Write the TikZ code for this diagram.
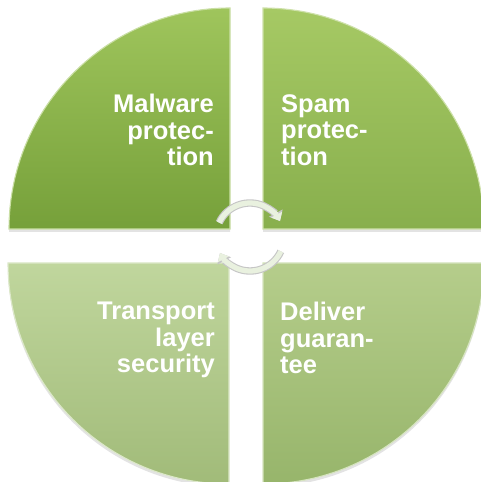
\documentclass[tikz,border=0pt]{standalone}
\usepackage{fontspec}
\setmainfont{Liberation Sans}
\usetikzlibrary{arrows.meta,shadows}

\definecolor{tlTop}{HTML}{9FC55C}
\definecolor{tlBot}{HTML}{76A03A}
\definecolor{trTop}{HTML}{A6C964}
\definecolor{trBot}{HTML}{88AF4D}
\definecolor{blTop}{HTML}{C0D69D}
\definecolor{blBot}{HTML}{A1BB79}
\definecolor{brTop}{HTML}{B5CD8B}
\definecolor{brBot}{HTML}{97B56B}
\definecolor{cycleFill}{HTML}{E9F1DF}

\begin{document}
\begin{tikzpicture}[
  x=1pt,
  y=1pt,
  quarter/.style={
    draw=#1,
    line width=1.1pt,
    drop shadow={shadow xshift=0pt, shadow yshift=-3pt, opacity=0.22}
  },
  caption/.style={
    font=\bfseries\fontsize{25.5}{26.5}\selectfont,
    text=white,
    inner sep=0pt
  },
  cycleedge/.style={
    draw=gray!45,
    line width=7.4pt,
    -{Triangle[width=15pt,length=9pt]}
  },
  cyclebody/.style={
    draw=cycleFill,
    line width=5.2pt,
    -{Triangle[width=12pt,length=7.2pt]}
  }
]
\useasboundingbox (0,0) rectangle (480,482);

% ---------------------------------------------------------------------------
% Four quarter discs
% ---------------------------------------------------------------------------
\path[quarter=tlTop!55!white, top color=tlTop, bottom color=tlBot]
  (230,253) -- ++(-221,0) arc[start angle=180, end angle=90, radius=221] -- cycle;
\path[quarter=trTop!55!white, top color=trTop, bottom color=trBot]
  (263,253) -- ++(0,221) arc[start angle=90, end angle=0, radius=221] -- cycle;
\path[quarter=blTop!55!white, top color=blTop, bottom color=blBot]
  (229,219) -- ++(0,-221) arc[start angle=270, end angle=180, radius=221] -- cycle;
\path[quarter=brTop!55!white, top color=brTop, bottom color=brBot]
  (263,219) -- ++(221,0) arc[start angle=0, end angle=-90, radius=221] -- cycle;

% ---------------------------------------------------------------------------
% Labels
% ---------------------------------------------------------------------------
\node[caption, anchor=north east, align=right] (malware) at (214,388)
  {Malware\\protec-\\tion};
\node[caption, anchor=north west, align=left] (spam) at (281,388)
  {Spam\\protec-\\tion};
\node[caption, anchor=north east, align=right] (transport) at (215,180)
  {Transport\\layer\\security};
\node[caption, anchor=north west, align=left] (deliver) at (280,180)
  {Deliver\\guaran-\\tee};

% ---------------------------------------------------------------------------
% Cycle arrows in the middle
% ---------------------------------------------------------------------------
\coordinate (hub) at (250,245);
\draw[cycleedge] (hub) ++(155:34) arc[start angle=155, end angle=28, radius=34];
\draw[cyclebody] (hub) ++(155:34) arc[start angle=155, end angle=28, radius=34];
\draw[cycleedge] (hub) ++(-25:34) arc[start angle=-25, end angle=-152, radius=34];
\draw[cyclebody] (hub) ++(-25:34) arc[start angle=-25, end angle=-152, radius=34];
\end{tikzpicture}
\end{document}
